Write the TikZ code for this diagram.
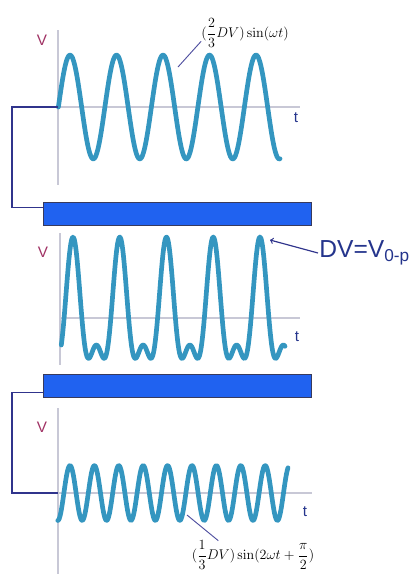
\documentclass[tikz,border=0pt]{standalone}
\usepackage{amsmath}
\usepackage[no-math]{fontspec}
\newfontfamily\arialfont{Liberation Sans}

\definecolor{wavecol}{RGB}{52,150,192}
\definecolor{axiscol}{RGB}{200,200,214}
\definecolor{wirecol}{RGB}{48,52,140}
\definecolor{barfill}{RGB}{32,98,240}
\definecolor{barline}{RGB}{56,58,92}
\definecolor{vcol}{RGB}{160,50,100}
\definecolor{tcol}{RGB}{36,52,140}
\definecolor{leadcol}{RGB}{80,80,160}

\begin{document}
\begin{tikzpicture}[
    x=0.03cm, y=-0.03cm,
    >=to,
    axis/.style={draw=axiscol, line width=1.1pt},
    wave/.style={draw=wavecol, line width=4pt, line cap=round, line join=round},
    wire/.style={draw=wirecol, line width=1pt},
    bar/.style={
        draw=barline, fill=barfill, line width=0.8pt,
        minimum width=8.04cm, minimum height=0.69cm, inner sep=0pt
    },
    vlbl/.style={font=\arialfont\fontsize{13}{13}\selectfont, text=vcol},
    tlbl/.style={font=\arialfont\fontsize{13}{13}\selectfont, text=tcol},
    formula/.style={font=\fontsize{13}{15}\selectfont, inner sep=0pt},
    leader/.style={draw=leadcol, line width=0.8pt}
]
\useasboundingbox (0,0) rectangle (410,574);

% Ursprung der drei Achsen und Knickpunkte der Leitungen
\coordinate (o1) at (58,107);
\coordinate (o2) at (60,318);
\coordinate (o3) at (58,493);
\coordinate (c1) at (12,107);
\coordinate (c2) at (12,493);

% Oben: Grundwelle
\draw[axis] (58,30) -- (58,185);
\draw[axis] (o1) -- (300,107);
\node[vlbl] (v1) at (42,40) {V};
\node[tlbl] (t1) at (296,118) {t};
\draw[wave] plot[domain=58.4:280, samples=220, smooth]
    (\x, {107-52*sin((\x-58.4)*(360/46.5))});
\node[formula] (f1) at (245,33) {$(\dfrac{2}{3}DV)\sin(\omega t)$};
\coordinate (w1) at (178,67);
\draw[leader] (w1) -- ([yshift=-0.25cm]f1.west);

% Balken
\node[bar] (bar1) at (177,213.5) {};
\node[bar] (bar2) at (177,385.5) {};

% Mitte: Summe
\draw[axis] (60,233) -- (60,365);
\draw[axis] (o2) -- (300,318);
\node[vlbl] (v2) at (43,252) {V};
\node[tlbl] (t2) at (297,337) {t};
\draw[wave] plot[domain=61.3:285, samples=260, smooth]
    (\x, {318-81*((2/3)*sin((\x-61.3)*(360/46.75))-(1/3)*cos((\x-61.3)*(720/46.75)))});
\node[font=\arialfont\fontsize{21}{21}\selectfont, text=tcol, anchor=west, inner sep=1pt]
    (dv) at (318,253) {DV=V\textsubscript{0-p}};
\coordinate (pk) at (270,240);
\draw[->, wire] (dv.west) -- (pk);

% Unten: Oberwelle
\draw[axis] (58,408) -- (58,574);
\draw[axis] (o3) -- (312,493);
\node[vlbl] (v3) at (42,427) {V};
\node[tlbl] (t3) at (305,512) {t};
\draw[wave] plot[domain=57.8:288, samples=300, smooth]
    (\x, {493+27.5*cos((\x-57.8)*(360/24.4))});
\node[formula] (f3) at (253,555) {$(\dfrac{1}{3}DV)\sin(2\omega t+\dfrac{\pi}{2})$};
\coordinate (w3) at (187,515);
\draw[leader] (w3) -- ([xshift=0.8cm]f3.north west);

% Leitungen
\draw[wire] (o1) -- (c1) |- ([yshift=0.17cm]bar1.west);
\draw[wire] ([yshift=-0.2cm]bar2.west) -| (c2) -- (o3);

\end{tikzpicture}
\end{document}
